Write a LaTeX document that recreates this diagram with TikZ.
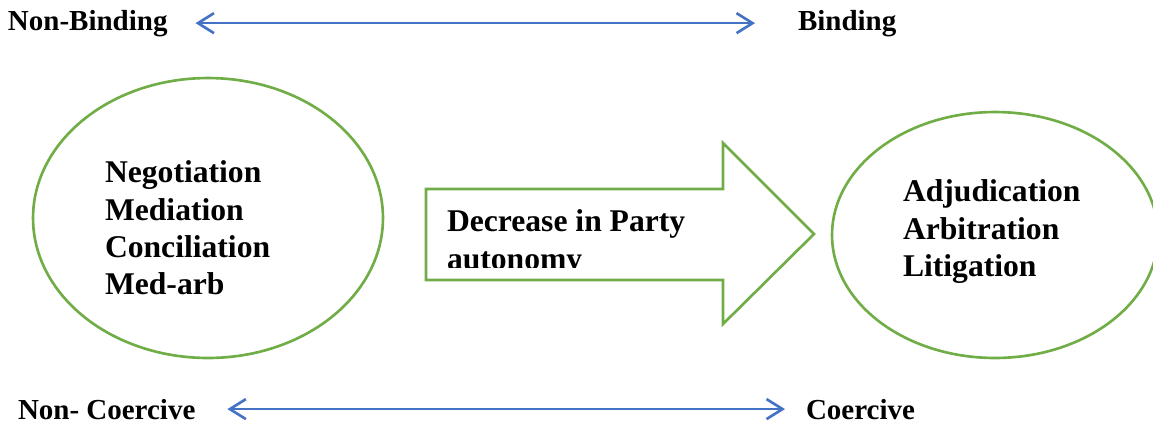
\documentclass[tikz,border=0pt]{standalone}
\usepackage{fontspec}
\setmainfont{Liberation Serif}
\usetikzlibrary{arrows.meta,shapes.geometric,positioning}
\definecolor{linkblue}{HTML}{4472C4}
\definecolor{ringgreen}{HTML}{70AD47}
\tikzset{every picture/.style={line width=1.5pt}}
\tikzset{
  endtext/.style={inner sep=0pt, outer sep=0pt,
                  font=\fontsize{16.5}{20}\selectfont\bfseries},
  listtext/.style={inner sep=0pt, outer sep=0pt, align=left,
                   font=\fontsize{18}{21.2}\selectfont\bfseries},
  ring/.style={ellipse, draw=ringgreen, inner sep=0pt},
  bothway/.style={linkblue, {Straight Barb[length=3.2mm,width=4mm]}-{Straight Barb[length=3.2mm,width=4mm]}},
}
\def\W{1153}
\def\H{424}

\begin{document}
\begin{tikzpicture}[x=0.02cm, y=-0.02cm]
  \useasboundingbox (0,0) rectangle (\W,\H);
  % scale labels | top and bottom
  \node[endtext, anchor=base west] (nb) at (8,30) {Non-Binding};
  \node[endtext, anchor=base west] (b) at (798,30) {Binding};
  \node[endtext, anchor=base west] (nc) at (18,419) {Non- Coercive};
  \node[endtext, anchor=base west] (c) at (806,419) {Coercive};
  \draw[bothway, shorten <=0.56cm, shorten >=0.86cm] (nb.east) -- (b.west);
  \draw[bothway, shorten <=0.64cm, shorten >=0.42cm] (nc.east) -- (c.west);

  % the two groups of methods
  \node[ring, minimum width=7cm, minimum height=5.6cm] (left) at (208,218) {};
  \node[listtext, anchor=north west] (lefttext) at (105,161)
    {Negotiation\\Mediation\\Conciliation\\Med-arb};
  \node[ring, minimum width=6.52cm, minimum height=4.92cm] (right) at (995,235) {};
  \node[listtext, anchor=north west] (righttext) at (903,180)
    {Adjudication\\Arbitration\\Litigation};

  % block arrow | text cut at the body's lower edge
  \draw[ringgreen] (426,189) -- (723,189) -- (723,143) -- (814,234)
    -- (723,324) -- (723,280) -- (426,280) -- cycle;
  \begin{scope}
    \clip (426,189) rectangle (723,267);
    \node[listtext, anchor=north west, font=\fontsize{18}{21.6}\selectfont\bfseries]
      (shift) at (447,210) {Decrease in Party\\autonomy};
  \end{scope}
\end{tikzpicture}
\end{document}
